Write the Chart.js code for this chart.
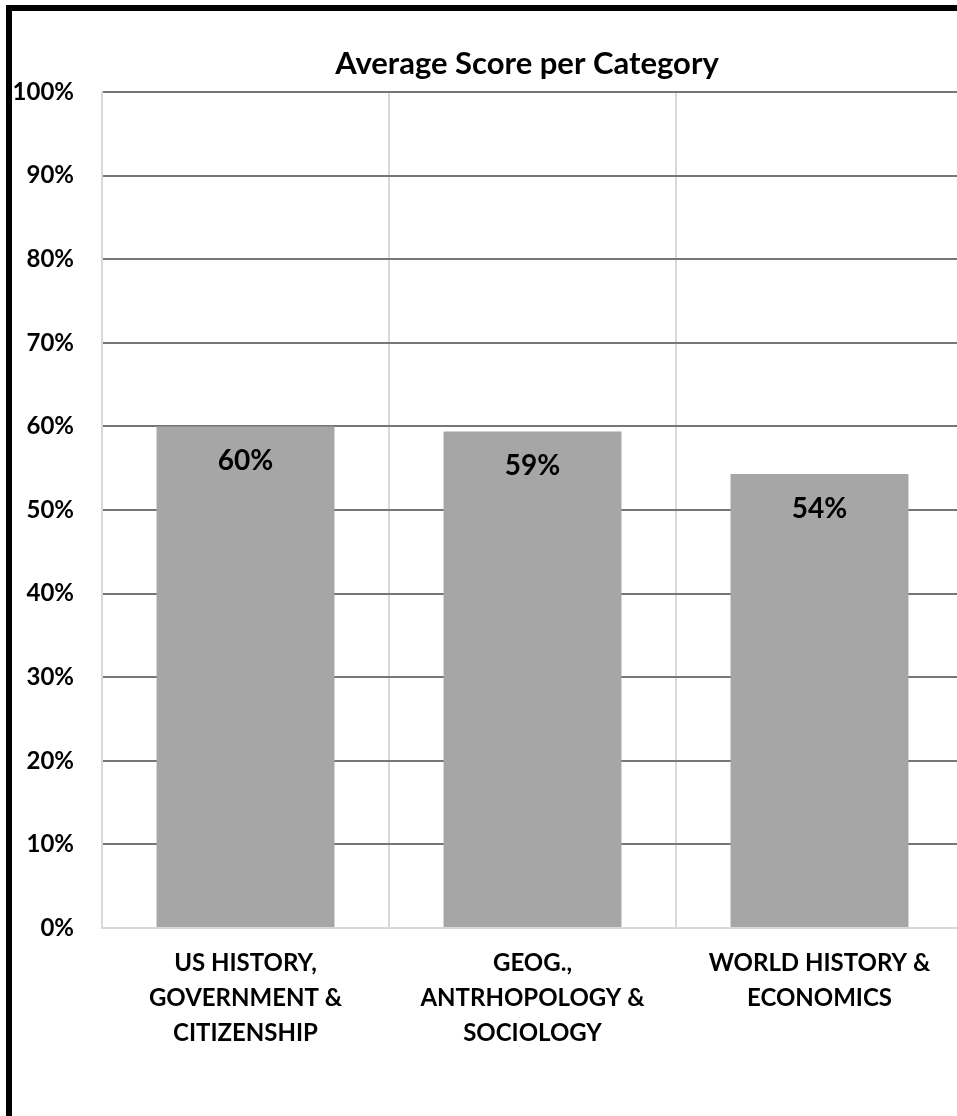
<!DOCTYPE html>
<html>
<head>
<meta charset="utf-8">
<script src="https://cdn.jsdelivr.net/npm/chart.js@4/dist/chart.umd.min.js"></script>
<style>
  html, body { margin: 0; padding: 0; background: #fff; overflow: hidden; width: 957px; height: 1116px; }
  #c { position: absolute; left: 0; top: 0; }
  #frame { position: absolute; left: 6px; top: 5px; width: 2000px; height: 2000px; border-left: 6px solid #000; border-top: 6px solid #000; pointer-events: none; }
</style>
</head>
<body>
<canvas id="c" width="1000" height="1116" style="width:1000px;height:1116px"></canvas>
<div id="frame"></div>
<script>
const chartTitle = "Average Score per Category";
const categories = [
  ["US HISTORY,", "GOVERNMENT &", "CITIZENSHIP"],
  ["GEOG.,", "ANTRHOPOLOGY &", "SOCIOLOGY"],
  ["WORLD HISTORY &", "ECONOMICS"]
];
const scores = [0.60, 0.594, 0.543];
const yTickValues = [0, 0.1, 0.2, 0.3, 0.4, 0.5, 0.6, 0.7, 0.8, 0.9, 1.0];

const FONT = "Lato, 'Open Sans', sans-serif";
const pct = v => Math.round(v * 100) + "%";

const barLabels = {
  id: "barLabels",
  afterDatasetsDraw(chart) {
    const ctx = chart.ctx;
    const meta = chart.getDatasetMeta(0);
    ctx.save();
    ctx.font = "bold 28px " + FONT;
    ctx.fillStyle = "#000";
    ctx.textAlign = "center";
    ctx.textBaseline = "middle";
    meta.data.forEach((bar, i) => {
      ctx.fillText(pct(scores[i]), bar.x, bar.y + 35);
    });
    ctx.restore();
  }
};

const titleText = {
  id: "titleText",
  afterDraw(chart) {
    const ctx = chart.ctx;
    ctx.save();
    ctx.font = "bold 31px " + FONT;
    ctx.fillStyle = "#000";
    ctx.textAlign = "center";
    ctx.textBaseline = "middle";
    ctx.fillText(chartTitle, 527, 64);
    ctx.restore();
  }
};

new Chart(document.getElementById("c"), {
  type: "bar",
  data: {
    labels: categories,
    datasets: [{
      data: scores,
      backgroundColor: "#a6a6a6",
      borderWidth: 0,
      barPercentage: 0.62,
      categoryPercentage: 1.0
    }]
  },
  options: {
    responsive: false,
    animation: false,
    events: [],
    layout: { padding: { top: 92, left: 0, right: 37, bottom: 0 } },
    plugins: {
      legend: { display: false },
      tooltip: { enabled: false },
      title: { display: false }
    },
    scales: {
      x: {
        z: 1,
        grid: { color: "#d9d9d9", lineWidth: 2, offset: true, drawTicks: false },
        border: { color: "#d9d9d9", width: 2 },
        ticks: {
          color: "#000",
          padding: 17.5,
          maxRotation: 0,
          autoSkip: false,
          font: { family: FONT, size: 24, weight: "bold", lineHeight: "35px" }
        },
        afterFit(scale) { scale.height = 188; }
      },
      y: {
        min: 0,
        max: 1,
        afterBuildTicks(scale) { scale.ticks = yTickValues.map(v => ({ value: v })); },
        grid: {
          color: c => (c.tick && c.tick.value === 0) ? "#d9d9d9" : "#767676",
          lineWidth: 2,
          drawTicks: false
        },
        border: { color: "#d9d9d9", width: 2 },
        ticks: {
          color: "#000",
          padding: 28,
          callback: v => pct(v),
          font: { family: FONT, size: 24, weight: "bold" }
        },
        afterFit(scale) { scale.width = 102; }
      }
    }
  },
  plugins: [barLabels, titleText]
});
</script>
</body>
</html>
